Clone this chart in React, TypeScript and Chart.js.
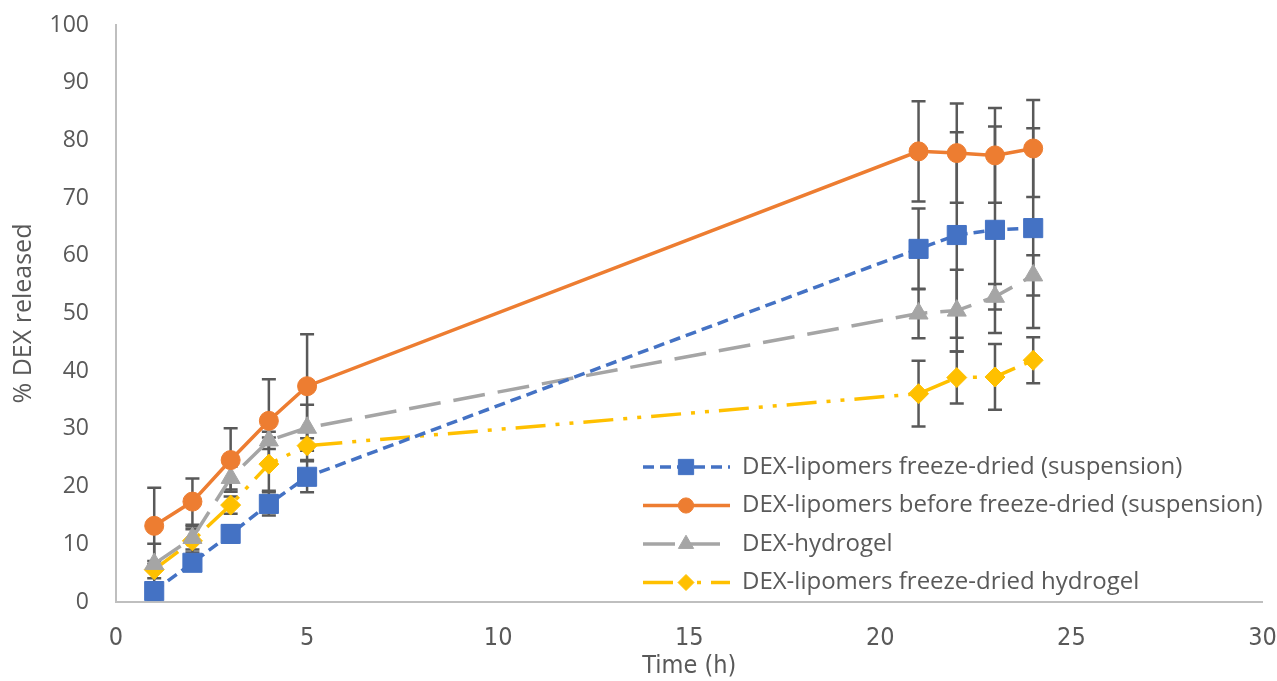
import React, { useEffect, useRef } from "react";
import { Chart, registerables } from "chart.js";
import { drawPoint } from "chart.js/helpers";

Chart.register(...registerables);

const timeHours = [1, 2, 3, 4, 5, 21, 22, 23, 24];

const seriesLabels = [
  "DEX-lipomers freeze-dried (suspension)",
  "DEX-lipomers before freeze-dried (suspension)",
  "DEX-hydrogel",
  "DEX-lipomers freeze-dried hydrogel",
];

const freezeDriedSusp = [1.9, 6.8, 11.8, 17.0, 21.7, 61.2, 63.6, 64.5, 64.8];
const freezeDriedSuspErr = [1.5, 1.2, 1.5, 2.0, 2.7, 7.0, 17.8, 17.9, 17.3];

const beforeFreezeDried = [13.2, 17.4, 24.6, 31.4, 37.4, 78.1, 77.8, 77.4, 78.6];
const beforeFreezeDriedErr = [6.6, 4.0, 5.5, 7.2, 9.0, 8.7, 8.6, 8.2, 8.4];

const hydrogel = [6.6, 11.1, 21.5, 28.0, 30.2, 50.0, 50.5, 52.9, 56.6];
const hydrogelErr = [3.5, 2.0, 2.0, 1.5, 4.0, 4.3, 7.1, 2.2, 3.5];

const freezeDriedHydrogel = [5.6, 10.6, 16.8, 23.9, 27.1, 36.1, 38.9, 39.0, 41.9];
const freezeDriedHydrogelErr = [1.5, 2.0, 1.5, 4.6, 2.5, 5.7, 4.5, 5.7, 4.0];

const xTicks = [0, 5, 10, 15, 20, 25, 30];
const yTicks = [0, 10, 20, 30, 40, 50, 60, 70, 80, 90, 100];

const TEXT = "#595959";
const NARROW = "'DejaVu Sans', sans-serif";
const WIDE = "'Open Sans', 'Noto Sans', sans-serif";

const errorsByDataset = [freezeDriedSuspErr, beforeFreezeDriedErr, hydrogelErr, freezeDriedHydrogelErr];

const errorBarPlugin = {
  id: "errorBars",
  beforeDatasetsDraw(chart: any) {
    const ctx = chart.ctx;
    const yScale = chart.scales.y;
    ctx.save();
    ctx.strokeStyle = "#595959";
    ctx.lineWidth = 2.5;
    ctx.setLineDash([]);
    chart.data.datasets.forEach((ds: any, i: number) => {
      const meta = chart.getDatasetMeta(i);
      const errs = errorsByDataset[i];
      meta.data.forEach((pt: any, j: number) => {
        const v = ds.data[j].y;
        const e = errs[j];
        const x = pt.x;
        const yTop = yScale.getPixelForValue(v + e);
        const yBot = yScale.getPixelForValue(v - e);
        ctx.beginPath();
        ctx.moveTo(x, yTop);
        ctx.lineTo(x, yBot);
        ctx.moveTo(x - 7, yTop);
        ctx.lineTo(x + 7, yTop);
        ctx.moveTo(x - 7, yBot);
        ctx.lineTo(x + 7, yBot);
        ctx.stroke();
      });
    });
    ctx.restore();
  },
};

const legendPlugin = {
  id: "customLegend",
  afterDraw(chart: any) {
    const ctx = chart.ctx;
    const x0 = 643;
    const x1 = 730;
    const mx = 686;
    const tx = 742;
    const rows = [467, 505.5, 544, 582.5];
    ctx.save();
    chart.data.datasets.forEach((ds: any, i: number) => {
      const y = rows[i];
      ctx.strokeStyle = ds.borderColor;
      ctx.lineWidth = ds.borderWidth;
      ctx.setLineDash(ds.borderDash || []);
      ctx.beginPath();
      ctx.moveTo(x0, y);
      ctx.lineTo(x1, y);
      ctx.stroke();
      ctx.setLineDash([]);
      ctx.fillStyle = ds.pointBackgroundColor;
      ctx.strokeStyle = ds.pointBorderColor;
      ctx.lineWidth = 1;
      drawPoint(ctx, { pointStyle: ds.pointStyle, radius: ds.pointRadius * 0.8, rotation: 0, borderWidth: 1 }, mx, y);
      ctx.fillStyle = TEXT;
      ctx.font = `24px ${WIDE}`;
      ctx.textBaseline = "middle";
      ctx.textAlign = "left";
      ctx.fillText(ds.label, tx, y);
    });
    ctx.restore();
  },
};

function toPoints(values: number[]) {
  return timeHours.map((t, i) => ({ x: t, y: values[i] }));
}

export default function App() {
  const canvasRef = useRef<HTMLCanvasElement | null>(null);

  useEffect(() => {
    document.body.style.margin = "0";
    const canvas = canvasRef.current;
    if (!canvas) return;
    const mk = (label: string, values: number[], color: string, style: string, radius: number, dash: number[]) => ({
      label,
      data: toPoints(values),
      borderColor: color,
      backgroundColor: color,
      pointBackgroundColor: color,
      pointBorderColor: color,
      pointStyle: style,
      pointRadius: radius,
      pointBorderWidth: 1,
      borderWidth: 3.5,
      borderDash: dash,
      tension: 0,
      fill: false,
    });
    const chart = new Chart(canvas, {
      type: "line",
      data: {
        datasets: [
          mk(seriesLabels[0], freezeDriedSusp, "#4472C4", "rect", 13.5, [11, 6]),
          mk(seriesLabels[1], beforeFreezeDried, "#ED7D31", "circle", 9.5, []),
          mk(seriesLabels[2], hydrogel, "#A5A5A5", "triangle", 11, [32, 13]),
          mk(seriesLabels[3], freezeDriedHydrogel, "#FFC000", "rectRot", 10, [30, 10, 4, 10, 4, 10]),
        ] as any,
      },
      options: {
        animation: false,
        responsive: false,
        maintainAspectRatio: false,
        layout: { padding: { top: 25, right: 12, left: 0, bottom: 0 } },
        plugins: { legend: { display: false }, tooltip: { enabled: false } },
        scales: {
          x: {
            type: "linear",
            min: 0,
            max: 30,
            afterFit: (s: any) => { s.height = 79; s.paddingLeft = 0; s.paddingRight = 0; },
            afterBuildTicks: (s: any) => { s.ticks = xTicks.map((v) => ({ value: v })); },
            grid: { display: false, drawTicks: false },
            border: { display: true, color: "#BFBFBF", width: 2 },
            ticks: { color: TEXT, font: { family: NARROW, size: 25, weight: "condensed" }, padding: 21, maxRotation: 0 },
            title: { display: true, text: "Time (h)", color: TEXT, font: { family: NARROW, size: 25, weight: "condensed" }, padding: { top: 0, bottom: 0 } },
          },
          y: {
            min: 0,
            max: 100,
            afterFit: (s: any) => { s.width = 116; s.paddingTop = 0; s.paddingBottom = 0; },
            afterBuildTicks: (s: any) => { s.ticks = yTicks.map((v) => ({ value: v })); },
            grid: { display: false, drawTicks: false },
            border: { display: true, color: "#BFBFBF", width: 2 },
            ticks: { color: TEXT, font: { family: WIDE, size: 23 }, padding: 27 },
            title: { display: true, text: "% DEX released", color: TEXT, font: { family: WIDE, size: 25 }, padding: { top: 9, bottom: 0 } },
          },
        },
      } as any,
      plugins: [errorBarPlugin, legendPlugin],
    });
    return () => chart.destroy();
  }, []);

  return (
    <div style={{ width: 1277, height: 681, background: "#fff" }}>
      <canvas ref={canvasRef} width={1277} height={681} style={{ display: "block" }} />
    </div>
  );
}
